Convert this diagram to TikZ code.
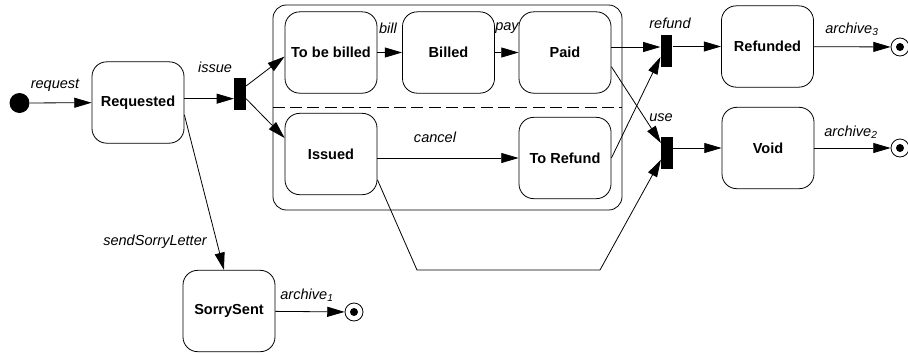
\documentclass[tikz,border=0pt]{standalone}
\usepackage{fontspec}
\setmainfont{Liberation Sans}
\usetikzlibrary{arrows.meta}

\begin{document}
\begin{tikzpicture}[x=0.75pt,y=-0.75pt,line width=0.6pt,
    font=\fontsize{10.9}{13}\selectfont,
    state/.style={draw,rounded corners=11pt,minimum width=69pt,minimum height=61pt,
      font=\fontsize{10.9}{13}\selectfont\bfseries},
    composite/.style={draw,rounded corners=10pt,minimum width=261.75pt,minimum height=153.75pt},
    bar/.style={fill,inner sep=0pt,minimum width=8.5pt,minimum height=24pt},
    initial/.style={circle,fill,inner sep=0pt,minimum size=15pt},
    final/.style={circle,draw,inner sep=0pt,minimum size=13.5pt,
      path picture={\fill (path picture bounding box.center) circle (3pt);}},
    lbl/.style={font=\fontsize{10.9}{13}\selectfont\itshape},
    trans/.style={-{Triangle[length=13pt,width=7.5pt]}}]
  \useasboundingbox (0,0) rectangle (908,354);
  \node[composite] (tickets) at (447.5,107.5) {};
  \draw[dashed,dash pattern=on 9pt off 4pt] (tickets.west) -- (tickets.east);
  \draw
    (19.5,103) node[initial] (init){}
    (138,102.5) node[state] (Requested){Requested}
    (240,94) node[bar] (issue){}
    (331,52.5) node[state] (ToBeBilled){To be billed}
    (448.5,52.5) node[state] (Billed){Billed}
    (565,52.5) node[state] (Paid){Paid}
    (331,154) node[state] (Issued){Issued}
    (565,158) node[state] (ToRefund){To Refund}
    (666.5,51) node[bar] (refund){}
    (667,153) node[bar] (use){}
    (767.5,46.5) node[state] (Refunded){Refunded}
    (768,148) node[state] (Void){Void}
    (229,311) node[state] (SorrySent){SorrySent}
    (900,47) node[final] (end3){}
    (900,148) node[final] (end2){}
    (354,312) node[final] (end1){};
  % transition labels
  \draw
    (55,85) node[lbl] (lrequest){request}
    (215,67) node[lbl] (lissue){issue}
    (388,28) node[lbl] (lbill){bill}
    (507,28) node[lbl] (lpay){pay}
    (435,137) node[lbl] (lcancel){cancel}
    (670,23) node[lbl] (lrefund){refund}
    (661,118) node[lbl] (luse){use}
    (852,29) node[lbl] (larchive3){archive\textsubscript{3}}
    (851,132) node[lbl] (larchive2){archive\textsubscript{2}}
    (155,242) node[lbl] (lsorry){sendSorryLetter}
    (307,295) node[lbl] (larchive1){archive\textsubscript{1}};
  \coordinate (issuein) at ([yshift=-3.5pt]issue.west);
  \coordinate (refundin) at ([yshift=3pt]refund.west);
  \coordinate (refundlow) at ([yshift=-4.5pt]refund.west);
  \coordinate (usehigh) at ([yshift=7.5pt]use.west);
  \coordinate (uselow) at ([yshift=-5pt]use.west);
  \coordinate (bendA) at (417,270);
  \coordinate (bendB) at (600,270);
  \begin{scope}[trans]
    \draw (init) to (Requested);
    \draw (Requested.east |- issuein) to (issuein);
    \draw ([yshift=6pt]issue.east) to (ToBeBilled.185);
    \draw ([yshift=-3.5pt]issue.east) to (Issued.161);
    \draw (ToBeBilled) to (Billed);
    \draw (Billed) to (Paid);
    \draw (Issued.east |- ToRefund) to (ToRefund);
    \draw (Paid.east |- refundin) to (refundin);
    \draw (ToRefund.east) to (refundlow);
    \draw (Paid.-17) to (usehigh);
    \draw (Issued.-29.5) -- (bendA) -- (bendB) -- (uselow);
    \draw (refund.east |- Refunded) to (Refunded);
    \draw (use.east |- Void) to (Void);
    \draw (Refunded) to (end3);
    \draw (Void) to (end2);
    \draw (Requested.-15) to (SorrySent.97);
    \draw (SorrySent) to (end1);
  \end{scope}
\end{tikzpicture}
\end{document}
